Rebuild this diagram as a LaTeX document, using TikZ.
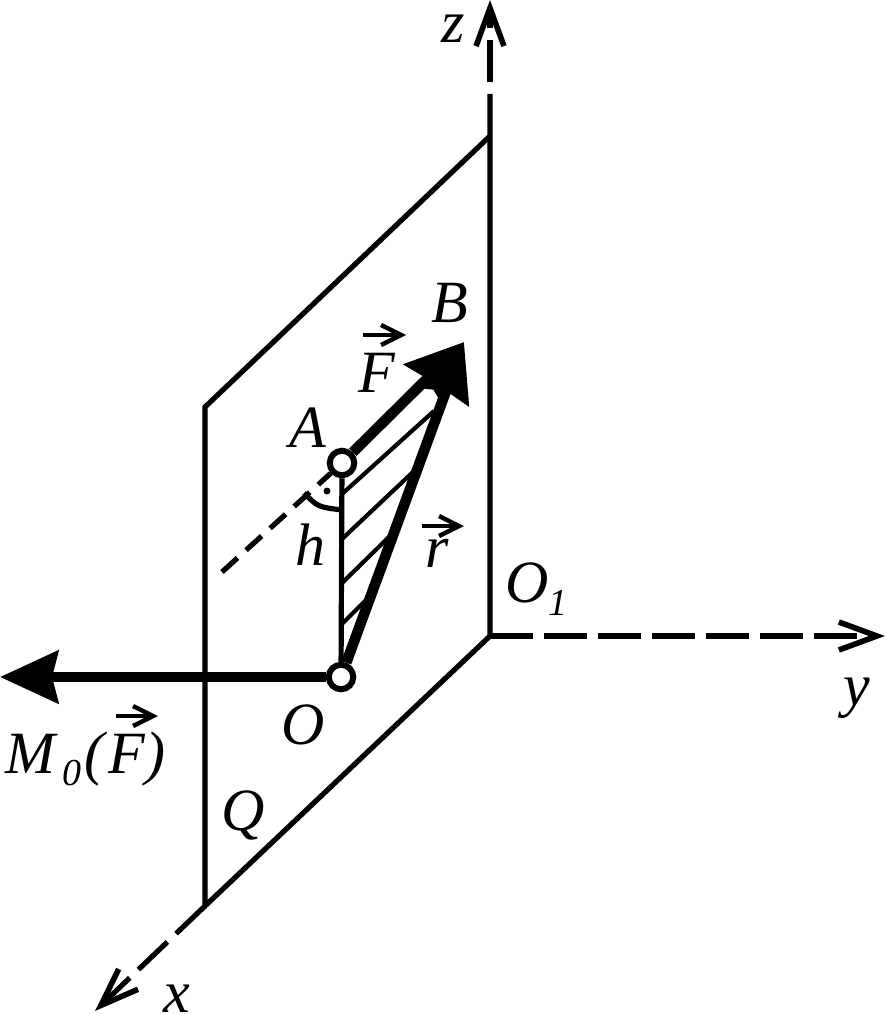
\documentclass[tikz,border=0pt]{standalone}
\usepackage{fontspec}
\setmainfont{Liberation Serif}
\usetikzlibrary{arrows.meta}
\tikzset{
  planeline/.style={line width=5.2pt, miter limit=20},
  axisline/.style={line width=5.2pt, -{Straight Barb[length=38pt,width=28pt,line width=5.6pt]}},
  thickline/.style={line width=10.5pt, -{Stealth[length=58pt,width=52pt,inset=6pt]}},
  hatchline/.style={line width=4.2pt},
  veclabel/.style={line width=4.4pt, -{Straight Barb[length=20pt,width=20pt,line width=4.4pt]}},
  pointcirc/.style={draw, circle, fill=white, line width=6pt, minimum size=24.5pt, inner sep=0pt},
  lbl/.style={inner sep=0pt, anchor=base west, font=\fontsize{60}{60}\selectfont\itshape},
  sublbl/.style={inner sep=0pt, anchor=base west, font=\fontsize{38}{38}\selectfont\itshape}
}
\begin{document}
\begin{tikzpicture}[x=1pt,y=-1pt]
  \useasboundingbox (0,0) rectangle (885,1014);
  \coordinate (O1) at (490,636);
  \coordinate (planetop) at (490,136);
  \coordinate (zgap) at (490,94);
  \coordinate (zstart) at (490,82);
  \coordinate (ztip) at (490,0);
  \coordinate (ytip) at (885,636);
  \coordinate (xtip) at (95,1011);
  \coordinate (planeul) at (205,407);
  \coordinate (planell) at (205,906);
  \coordinate (B) at (464,342);
  \coordinate (Mtip) at (0,677);
  \coordinate (hend) at (222,572);
  \coordinate (righta) at (304,493);
  \coordinate (rightb) at (342,510);
  \foreach \i/\xa/\ya/\xb/\yb in {1/342/494/434/411, 2/342/539/413/472, 3/342/583/391/535, 4/342/624/369/597} {
    \coordinate (hatcha\i) at (\xa,\ya);
    \coordinate (hatchb\i) at (\xb,\yb);
    \draw[hatchline] (hatcha\i) -- (hatchb\i);
  }

  \node[pointcirc] (A) at (342,463) {};
  \node[pointcirc] (O) at (341,677) {};

  % plane and axes
  \draw[planeline] (zgap) -- (O1) -- (planell) -- (planeul) -- (planetop);
  \draw[axisline, dash pattern=on 42pt off 12pt] (zstart) -- (ztip);
  \draw[axisline, dash pattern=on 43pt off 11pt] (O1) -- (ytip);
  \draw[axisline, dash pattern=on 40pt off 12pt] (planell) -- (xtip);

  % triangle and vectors
  \draw[planeline] (A) -- (O);
  \draw[planeline, dash pattern=on 21pt off 11.5pt] (hend) -- (A);
  \draw[planeline] (righta) .. controls (318,507) .. (rightb);
  \node[circle, fill=black, minimum size=7pt, inner sep=0pt] (rightdot) at (327,491) {};
  \draw[thickline] (A) -- (B);
  \draw[thickline] (O) -- (B);
  \draw[thickline] (O) -- (Mtip);

  % labels
  \node[lbl] (zlabel) at (441,43) {z};
  \node[lbl] (ylabel) at (843,705) {y};
  \node[lbl] (xlabel) at (163,1012) {x};
  \node[lbl] (Blabel) at (431,322) {B};
  \node[lbl] (Flabel) at (358,392) {F};
  \node[lbl] (Alabel) at (289,447) {A};
  \node[lbl] (hlabel) at (295,565) {h};
  \node[lbl] (rlabel) at (425,567) {r};
  \node[lbl] (Olabel) at (281,744) {O};
  \node[lbl] (Qlabel) at (221,830) {Q};
  \node[lbl] (O1label) at (505,602) {O};
  \node[sublbl] (O1sub) at (548,615) {1};
  \node[lbl] (Mlabel) at (5,773) {M};
  \node[sublbl] (Msub) at (62,785) {0};
  \node[lbl] (Mbracket) at (84,773) {(\kern4pt F\kern1pt)};

  \foreach \i/\xa/\xb/\yv in {1/363/406/335, 2/422/464/526, 3/116/158/716} {
    \coordinate (vecstart\i) at (\xa,\yv);
    \coordinate (vecend\i) at (\xb,\yv);
    \draw[veclabel] (vecstart\i) -- (vecend\i);
  }
\end{tikzpicture}
\end{document}
